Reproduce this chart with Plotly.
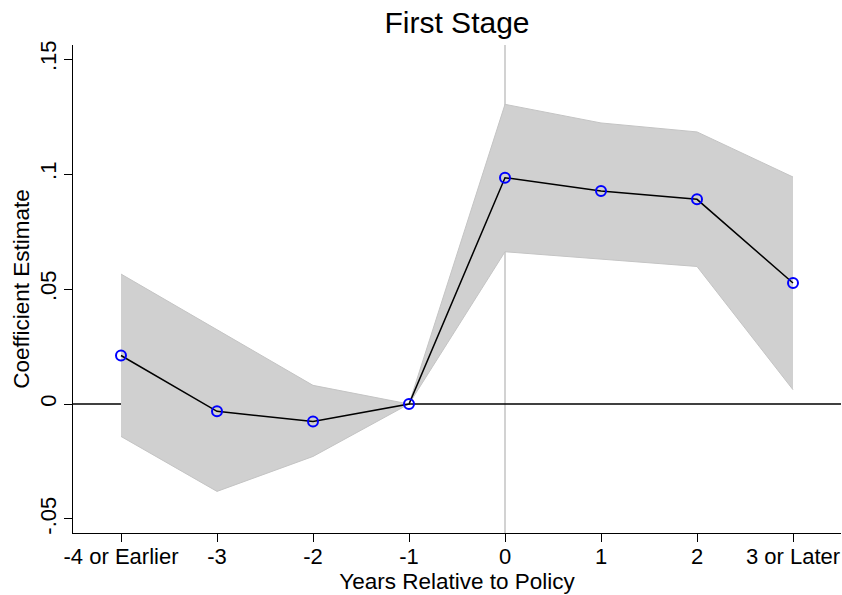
import plotly.graph_objects as go

categories = ["-4 or Earlier", "-3", "-2", "-1", "0", "1", "2", "3 or Later"]
coef = [0.0211, -0.0032, -0.0076, 0.0, 0.0984, 0.0926, 0.0890, 0.0526]
ci_upper = [0.0565, 0.0323, 0.0081, 0.0, 0.1303, 0.1222, 0.1183, 0.0987]
ci_lower = [-0.0141, -0.0380, -0.0228, 0.0, 0.0662, 0.0630, 0.0598, 0.0062]
y_tickvals = [-0.05, 0, 0.05, 0.1, 0.15]
y_ticktext = ["-.05", "0", ".05", ".1", ".15"]
policy_index = 4

xpos = list(range(len(categories)))
FONT = "Liberation Sans, Arial, Helvetica, sans-serif"
W, H = 842, 595

fig = go.Figure()
fig.add_trace(go.Scatter(x=xpos, y=ci_upper, mode="lines",
                         line=dict(color="#c4c4c4", width=1), showlegend=False,
                         hoverinfo="skip"))
fig.add_trace(go.Scatter(x=xpos, y=ci_lower, mode="lines", fill="tonexty",
                         fillcolor="#d0d0d0",
                         line=dict(color="#c4c4c4", width=1), showlegend=False,
                         hoverinfo="skip"))
fig.add_trace(go.Scatter(x=xpos, y=coef, mode="lines+markers",
                         line=dict(color="black", width=1.5),
                         marker=dict(symbol="circle-open", size=10,
                                     color="#0000ff", line=dict(width=2, color="#0000ff")),
                         showlegend=False))

fig.add_shape(type="line", xref="x", yref="paper", x0=policy_index, x1=policy_index,
              y0=0, y1=1, line=dict(color="#b4b4b4", width=1.2), layer="below")
fig.add_shape(type="line", xref="paper", yref="y", x0=0, x1=1, y0=0, y1=0,
              line=dict(color="black", width=1.4), layer="below")

fig.update_layout(
    width=W, height=H,
    margin=dict(l=73, r=1, t=45, b=62, autoexpand=False),
    paper_bgcolor="white", plot_bgcolor="white",
    font=dict(family=FONT, color="black", size=22),
    title=dict(text="First Stage", x=0.5, xref="paper", xanchor="center",
               y=1 - 22 / H, yref="container", yanchor="middle",
               font=dict(size=30, family=FONT, color="black")),
    xaxis=dict(range=[-0.5, 7.5], tickvals=xpos, ticktext=categories,
               showgrid=False, zeroline=False, showline=True, linecolor="black",
               linewidth=1.2, ticks="outside", ticklen=8, tickcolor="black",
               tickfont=dict(size=22), automargin=False, ticklabelstandoff=-5,
               title=dict(text="Years Relative to Policy", standoff=0,
                          font=dict(size=22.5))),
    yaxis=dict(range=[-0.05609, 0.1561], tickvals=y_tickvals, ticktext=y_ticktext,
               tickangle=-90, showgrid=False, zeroline=False, showline=True,
               linecolor="black", linewidth=1.2, ticks="outside", ticklen=8,
               tickcolor="black", tickfont=dict(size=22), automargin=False,
               ticklabelstandoff=-1,
               title=dict(text="Coefficient Estimate", standoff=0,
                          font=dict(size=22.5))),
)

fig.write_html(
    "out.html",
    config={"displayModeBar": False},
    post_script="document.body.style.margin='0';document.body.style.overflow='hidden';",
)
